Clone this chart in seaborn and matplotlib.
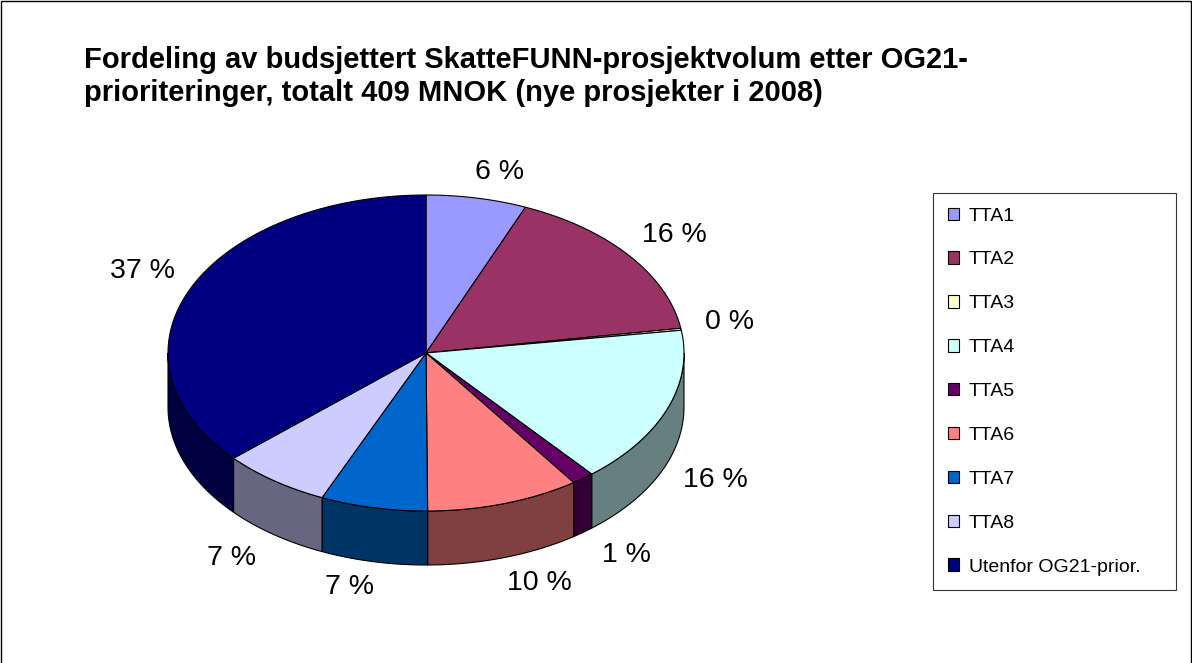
import numpy as np
import matplotlib
matplotlib.use("Agg")
import matplotlib.pyplot as plt
from matplotlib.patches import Polygon, Patch, Rectangle
import seaborn as sns

# Andeler (prosent av 409 MNOK), lest av figuren
categories = ["TTA1", "TTA2", "TTA3", "TTA4", "TTA5", "TTA6", "TTA7", "TTA8",
              "Utenfor OG21-prior."]
shares = [6.3, 16.2, 0.2, 16.2, 1.4, 9.6, 6.7, 6.8, 36.6]
colors = ["#9999FF", "#993366", "#FFFFCC", "#CCFFFF", "#660066", "#FF8080",
          "#0066CC", "#CCCCFF", "#000080"]
title_lines = ["Fordeling av budsjettert SkatteFUNN-prosjektvolum etter OG21-",
               "prioriteringer, totalt 409 MNOK (nye prosjekter i 2008)"]

sns.set_theme(style="white")
plt.rcParams['font.family'] = ['Liberation Sans', 'DejaVu Sans']

W, H = 1192, 663
fig = plt.figure(figsize=(W / 100, H / 100), dpi=100)
ax = fig.add_axes([0, 0, 1, 1])
ax.set_xlim(0, W)
ax.set_ylim(H, 0)
ax.axis('off')

# 3D-kake: midtpunkt, radier og tykkelse i piksler
cx, cy, rx, ry, depth = 426, 353, 258, 158, 54
pal = sns.color_palette(colors)
fracs = np.array(shares) / sum(shares)
edges = np.concatenate([[0], np.cumsum(fracs)]) * 2 * np.pi


def arc(t0, t1, n=80):
    t = np.linspace(t0, t1, n)
    return np.column_stack([cx + rx * np.sin(t), cy - ry * np.cos(t)])


# sideflater (bare forsiden er synlig)
for i, c in enumerate(pal):
    t0 = max(edges[i], np.pi / 2)
    t1 = min(edges[i + 1], 3 * np.pi / 2)
    if t1 <= t0:
        continue
    top = arc(t0, t1)
    bot = top + [0, depth]
    side = np.vstack([top, bot[::-1]])
    dark = tuple(0.5 * np.array(c))
    ax.add_patch(Polygon(side, closed=True, facecolor=dark,
                         edgecolor='black', linewidth=0.8))

# toppflater
for i, c in enumerate(pal):
    pts = np.vstack([[cx, cy], arc(edges[i], edges[i + 1])])
    ax.add_patch(Polygon(pts, closed=True, facecolor=c,
                         edgecolor='black', linewidth=0.8))

# prosentetiketter
pad, hw, hh = 15, 34, 11
for i, s in enumerate(shares):
    tm = (edges[i] + edges[i + 1]) / 2
    sx, cs = np.sin(tm), np.cos(tm)
    ex = cx + rx * sx
    ey = cy - ry * cs + (depth if cs < 0 else 0)
    lx = ex + pad * sx + hw * np.clip(3 * sx, -1, 1)
    ly = ey - pad * cs + hh * np.clip(-3 * cs, -1, 1)
    ax.text(lx, ly, f"{round(s):.0f} %", ha='center', va='center',
            fontsize=20.5, color='black')

for k, line in enumerate(title_lines):
    ax.text(84, 68 + 33 * k, line, ha='left', va='baseline', fontsize=21,
            fontweight='bold', color='black')

handles = [Patch(facecolor=c, edgecolor='black', linewidth=0.8) for c in pal]
leg = fig.legend(handles, categories, loc='upper left',
                 bbox_to_anchor=(933 / W, 0, 243 / W, 1 - 193 / H),
                 mode='expand', frameon=True, fancybox=False,
                 edgecolor='black', fontsize=14, labelspacing=1.38,
                 handlelength=0.6, handleheight=0.6, handletextpad=0.5,
                 borderpad=0.75, borderaxespad=0, labelcolor='black')
leg.get_frame().set_linewidth(0.8)

fig.add_artist(Rectangle((1 / W, -0.05), 1 - 2 / W, 1.05 - 1 / H,
                         transform=fig.transFigure, fill=False,
                         edgecolor='black', linewidth=1))

fig.savefig("out.png", dpi=100)
